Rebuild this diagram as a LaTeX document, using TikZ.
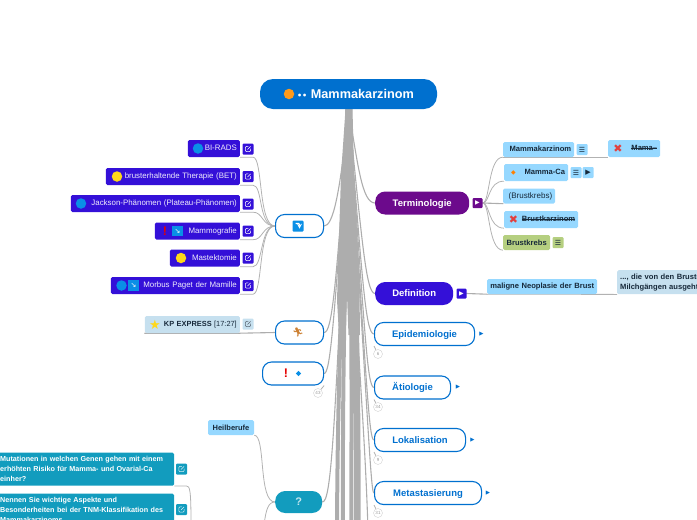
\documentclass[tikz,border=0pt]{standalone}
\usepackage{fontspec}
\setmainfont{Liberation Sans}
\newfontfamily\symfont{DejaVu Sans}
\newfontfamily\emojifont{Noto Emoji}
\usetikzlibrary{backgrounds,shapes.geometric}
\newcommand{\strikeword}[1]{\setbox0=\hbox{#1}\rlap{\rule[2.2pt]{\wd0}{.5pt}}\box0}

\definecolor{rootblue}{HTML}{0070CF}
\definecolor{indigo}{HTML}{3410D8}
\definecolor{plum}{HTML}{6C0A8C}
\definecolor{teal}{HTML}{129CBE}
\definecolor{sky}{HTML}{96D8FF}
\definecolor{pale}{HTML}{C6E0EF}
\definecolor{olive}{HTML}{B5CF80}
\definecolor{trunk}{HTML}{ADADAD}
\definecolor{inkdark}{HTML}{17293A}
\definecolor{ballblue}{HTML}{0A8FE6}
\definecolor{ballyellow}{HTML}{FFD81A}
\definecolor{ballorange}{HTML}{FF9A1A}
\definecolor{crossred}{HTML}{E2403F}

\tikzset{
  item/.style={fill=#1,rounded corners=1.5pt,inner xsep=3pt,inner ysep=0pt,minimum height=17pt,font=\fontsize{7.9}{9}\selectfont},
  lefttopic/.style={item=indigo,text=white!92!indigo,text width=#1,text height=6pt,text depth=1.2pt,align=right,anchor=east},
  leaf/.style={item=sky,text=inkdark,text width=#1,text height=6pt,text depth=1.2pt,align=right,anchor=west,font=\fontsize{7.6}{9}\selectfont\bfseries},
  bluetopic/.style={draw=rootblue,line width=1.1pt,fill=white,rounded corners=9pt,minimum height=23pt,text=rootblue,text height=7pt,text depth=1pt,font=\fontsize{9.5}{11}\selectfont\bfseries,anchor=west},
  filledtopic/.style={fill=#1,rounded corners=10pt,minimum height=23pt,text=white,text height=7pt,text depth=1pt,font=\fontsize{9.5}{11}\selectfont\bfseries,anchor=west},
  linkbtn/.style 2 args={fill=#1,rounded corners=1pt,minimum size=11pt,inner sep=0pt,path picture={
    \draw[#2,line width=.55pt] (path picture bounding box.center) ++(0.3,-2.6) -- ++(-2.9,0) -- ++(0,5.2) -- ++(5.2,0) -- ++(0,-2.9);
    \draw[#2,line width=.55pt] (path picture bounding box.center) ++(-0.5,0.5) -- ++(3.1,-3.1);}},
  symbtn/.style={fill=#1,rounded corners=1pt,minimum size=11pt,inner sep=0pt,text=inkdark,font=\symfont\fontsize{7}{7}\selectfont},
  ball/.style={circle,fill=#1,minimum size=10.5pt,inner sep=0pt},
  arrowbox/.style={fill=#1,rounded corners=1pt,minimum size=10pt,inner sep=0pt,text=white,font=\symfont\fontsize{6}{6}\selectfont},
  badge/.style={circle,draw=black!18,fill=white,minimum size=9pt,inner sep=0pt,text=black!40,font=\fontsize{4.5}{5}\selectfont},
  branch/.style={draw=trunk,line width=1.1pt,line cap=round},
  twig/.style={draw=black!30,line width=.8pt},
  redmark/.style={text=red!90!black,font=\fontsize{12.5}{12.5}\selectfont\bfseries,inner sep=0pt},
  cross/.style={text=crossred,inner sep=0pt,font=\symfont\fontsize{11}{11}\selectfont\bfseries},
  tri/.style={text=rootblue,font=\symfont\fontsize{5.5}{6}\selectfont,inner sep=0pt}
}

\begin{document}
\begin{tikzpicture}[x=1pt,y=-1pt]
\useasboundingbox (0,0) rectangle (697,520);

% root
\node[fill=rootblue,rounded corners=13pt,minimum width=177pt,minimum height=30pt,text=white,font=\fontsize{12.7}{14}\selectfont\bfseries,inner sep=0pt] (root) at (348.5,94) {\hspace*{14pt}{\fontsize{8}{8}\selectfont\symfont ••} Mammakarzinom};
\node[ball=ballorange] (rootdot) at (289,94) {};

% left topic with the grey links
\node[bluetopic,minimum width=48pt] (arrowtopic) at (275,226) {};
\node[fill=ballblue,rounded corners=1pt,minimum size=11pt,inner sep=0pt,path picture={
  \draw[white,line width=1.1pt,-stealth] (path picture bounding box.center) ++(-2.5,-2.5) -- ++(4,0) -- ++(0,5);}] (arrowicon) at (298,226) {};

\node[lefttopic=46pt] (birads) at (240,148.5) {BI-RADS};
\node[lefttopic=128pt] (bet) at (240,176.5) {brusterhaltende Therapie (BET)};
\node[lefttopic=163pt] (jackson) at (240,203.5) {Jackson-Phänomen (Plateau-Phänomen)};
\node[lefttopic=79pt] (mammo) at (240,231) {Mammografie};
\node[lefttopic=64pt] (mastek) at (240,258) {Mastektomie};
\node[lefttopic=123pt] (paget) at (240,285.5) {Morbus Paget der Mamille};
\node[linkbtn={indigo}{white}] (biradsbtn) at (248,149) {};
\node[linkbtn={indigo}{white}] (betbtn) at (248,176.5) {};
\node[linkbtn={indigo}{white}] (jacksonbtn) at (248,204) {};
\node[linkbtn={indigo}{white}] (mammobtn) at (248,231) {};
\node[linkbtn={indigo}{white}] (mastekbtn) at (248,258) {};
\node[linkbtn={indigo}{white}] (pagetbtn) at (248,285.5) {};
\node[ball=ballblue] (biradsdot) at (198,148.5) {};
\node[ball=ballyellow] (betdot) at (117,176.5) {};
\node[ball=ballblue] (jacksondot) at (81,203.5) {};
\node[redmark] (mammomark) at (165,231) {!};
\node[fill=ballblue,minimum size=10.5pt,inner sep=0pt,text=white,font=\symfont\fontsize{7}{7}\selectfont] (mammoicon) at (177.5,231) {↘};
\node[ball=ballyellow] (mastekdot) at (181,258) {};
\node[ball=ballblue] (pagetdot) at (121.5,285.5) {};
\node[fill=ballblue,minimum size=10.5pt,inner sep=0pt,text=white,font=\symfont\fontsize{7}{7}\selectfont] (pageticon) at (133.5,285.5) {↘};

% runner and exclamation topics
\node[bluetopic,minimum width=48pt] (runner) at (275,332.5) {};
\node[text=orange!75!black!80,inner sep=0pt,font=\emojifont\fontsize{9}{9}\selectfont] (runnericon) at (298,332.5) {🏃};
\node[item=pale,text=inkdark,text width=89pt,text height=6pt,text depth=1.2pt,align=right,anchor=east,font=\fontsize{7.4}{9}\selectfont] (kp) at (240,324.5) {\textbf{KP EXPRESS} [17:27]};
\node[linkbtn={pale}{inkdark!70}] (kpbtn) at (248,324) {};
\node[text=ballyellow,inner sep=0pt,font=\symfont\fontsize{13}{13}\selectfont] (kpstar) at (155,324.5) {★};

\node[bluetopic,minimum width=61pt] (warn) at (262,373.5) {};
\node[redmark] (warnmark) at (286,373.5) {!};
\node[diamond,fill=ballblue,minimum size=5.5pt,inner sep=0pt] (warndot) at (298.5,373.5) {};
\node[badge] (warnbadge) at (318,393) {43};

% question topic
\node[filledtopic=teal,minimum width=47pt,minimum height=22pt,text=white!75!teal,font=\fontsize{11}{12}\selectfont\bfseries] (quest) at (275,502) {?};
\node[item=sky,text=inkdark,minimum width=46pt,minimum height=15pt,inner xsep=0pt,font=\fontsize{7.5}{9}\selectfont\bfseries] (heil) at (231,427.5) {Heilberufe};
\node[item=teal,text=white,text width=171pt,align=left,anchor=north west,minimum height=33pt,font=\fontsize{7.2}{10}\selectfont\bfseries] (genes) at (-3,452.5) {Mutationen in welchen Genen gehen mit einem\\erhöhten Risiko für Mamma- und Ovarial-Ca\\einher?};
\node[item=teal,text=white,text width=171pt,align=left,anchor=north west,minimum height=33pt,font=\fontsize{7.2}{10}\selectfont\bfseries] (tnm) at (-3,493.5) {Nennen Sie wichtige Aspekte und\\Besonderheiten bei der TNM-Klassifikation des\\Mammakarzinoms};
\node[linkbtn={teal}{white!85!teal}] (genesbtn) at (181.5,469) {};
\node[linkbtn={teal}{white!85!teal}] (tnmbtn) at (181.5,509.5) {};

% right topics
\node[filledtopic=plum,minimum width=94pt] (termin) at (375,203) {Terminologie};
\node[arrowbox=plum] (terminbtn) at (477.5,203) {▶};
\node[filledtopic=indigo,minimum width=78pt] (defin) at (375,293.5) {Definition};
\node[arrowbox=indigo] (definbtn) at (461.5,293.5) {▶};
\node[bluetopic,minimum width=100pt] (epi) at (374,334) {Epidemiologie};
\node[tri] (epitri) at (481.5,334) {▶};
\node[badge] (epibadge) at (378,354) {6};
\node[bluetopic,minimum width=76pt] (aet) at (374,387.5) {Ätiologie};
\node[tri] (aettri) at (458,387.5) {▶};
\node[badge] (aetbadge) at (378,407) {34};
\node[bluetopic,minimum width=91pt] (lok) at (374,440) {Lokalisation};
\node[tri] (loktri) at (472.5,440) {▶};
\node[badge] (lokbadge) at (378,460) {9};
\node[bluetopic,minimum width=107pt] (meta) at (374,493) {Metastasierung};
\node[tri] (metatri) at (488,493) {▶};
\node[badge] (metabadge) at (378,513) {31};

% children of the terminology topic
\node[leaf=65pt,minimum height=15pt] (mk) at (503,149.5) {Mammakarzinom};
\node[symbtn=sky] (mkbtn) at (582,149.5) {☰};
\node[leaf=46pt] (mama) at (608,148.5) {\strikeword{Mama--}};
\node[cross] (mamax) at (618,148.5) {✖};
\node[leaf=58pt] (mca) at (504,172.5) {Mamma-Ca};
\node[text=orange,inner sep=0pt,font=\symfont\fontsize{6}{6}\selectfont] (mcadot) at (513.5,172.5) {◆};
\node[symbtn=sky] (mcabtn) at (576,172.5) {☰};
\node[symbtn=sky] (mcatri) at (588,172.5) {▶};
\node[leaf=46pt,minimum height=15pt,font=\fontsize{8}{9}\selectfont] (bk) at (503,196) {(Brustkrebs)};
\node[leaf=68pt] (bz) at (504,219.5) {\strikeword{Brustkarzinom}};
\node[cross] (bzx) at (513.5,219.5) {✖};
\node[item=olive,text=inkdark,anchor=west,minimum height=15pt,minimum width=47pt,inner xsep=0pt,font=\fontsize{7.6}{9}\selectfont\bfseries] (bg) at (503,242.5) {Brustkrebs};
\node[symbtn=olive] (bgbtn) at (558,242.5) {☰};

% children of the definition topic
\node[leaf=104pt,minimum height=15pt] (neo) at (487,286.5) {maligne Neoplasie der Brust};
\node[item=pale,text=inkdark,anchor=north west,text width=110pt,align=left,minimum height=24pt,font=\fontsize{7.6}{10}\selectfont\bfseries] (drues) at (617,270) {..., die von den Brustdrüsen\\Milchgängen ausgeht};

\begin{scope}[on background layer]
% the solid wedge under the root
\fill[trunk] (345.5,109) -- (341,175) -- (337,300) -- (339,335) -- (345.5,335) -- (347,295) -- (348.5,335) -- (360,335) -- (359.5,290) -- (354,170) -- (352.5,109) -- cycle;

% strands of the trunk leaving the page at the bottom
\coordinate (S2) at (337,530);
\coordinate (S3) at (343,530);
\coordinate (S4) at (351,530);
\coordinate (S5) at (357,530);
\coordinate (S6) at (368,530);
\draw[trunk,line width=4pt] (root.south) .. controls (349,200) and (338,290) .. (S2);
\draw[trunk,line width=4pt] (root.south) .. controls (349,200) and (342,290) .. (S3);
\draw[trunk,line width=3.5pt] (root.south) .. controls (350,200) and (352,290) .. (S4);
\draw[trunk,line width=7pt] (root.south) .. controls (350,200) and (358,290) .. (S5);
\draw[trunk,line width=1.1pt] (root.south) .. controls (352,300) and (364,400) .. (S6);

% branches from the root
\draw[branch] (root.south) .. controls (358,165) and (362,203) .. (termin.west);
\draw[branch] (root.south) .. controls (362,240) and (366,293.5) .. (defin.west);
\draw[branch] (root.south) .. controls (362,270) and (365,334) .. (epi.west);
\draw[branch] (root.south) .. controls (365,330) and (367,387.5) .. (aet.west);
\draw[branch] (root.south) .. controls (367,390) and (369,440) .. (lok.west);
\draw[branch] (root.south) .. controls (369,440) and (371,493) .. (meta.west);
\draw[branch] (root.south) .. controls (340,195) and (333,226) .. (arrowtopic.east);
\draw[branch] (root.south) .. controls (336,290) and (332,332.5) .. (runner.east);
\draw[branch] (root.south) .. controls (334,330) and (330,373.5) .. (warn.east);
\draw[branch] (root.south) .. controls (335,440) and (331,502) .. (quest.east);

% grey links of the left topics
\draw[twig] (birads.south east) -- ++(13,0) .. controls (263,157) and (258,226) .. (arrowtopic.west);
\draw[twig] (bet.south east) -- ++(13,0) .. controls (263,185) and (258,226) .. (arrowtopic.west);
\draw[twig] (jackson.south east) -- ++(13,0) .. controls (263,212) and (262,226) .. (arrowtopic.west);
\draw[twig] (mammo.south east) -- ++(13,0) .. controls (263,240) and (262,226) .. (arrowtopic.west);
\draw[twig] (mastek.south east) -- ++(13,0) .. controls (263,267) and (260,226) .. (arrowtopic.west);
\draw[twig] (paget.south east) -- ++(13,0) .. controls (263,294) and (258,226) .. (arrowtopic.west);
\draw[branch] (kp.south west) -- (kp.south east) -- (runner.west);
\draw[twig] (heil.south east) .. controls (266,435) and (258,502) .. (quest.west);
\coordinate (Q1) at (264,525);
\draw[twig] (quest.west) .. controls (268,502) and (266,510) .. (Q1);
\coordinate (T1) at (191,525);
\draw[twig] (genes.south east) -- ++(12,0) .. controls (190,486) and (191,490) .. (T1);

% links of the right side
\draw[twig] (terminbtn.east) .. controls (490,203) and (488,157) .. (mk.south west);
\draw[twig] (mk.south west) -- (mama.south west);
\draw[twig] (terminbtn.east) .. controls (490,203) and (488,181) .. (mca.south west);
\draw[branch] (terminbtn.east) -- (bk.south west);
\draw[twig] (terminbtn.east) .. controls (490,203) and (488,228) .. (bz.south west);
\draw[twig] (terminbtn.east) .. controls (490,203) and (488,250) .. (bg.south west);
\draw[branch] (definbtn.east) -- (neo.south west);
\draw[twig] (neo.south west) -- (drues.south west);

% stems of the badges
\draw[twig] (epi.south west) -- (epibadge);
\draw[twig] (aet.south west) -- (aetbadge);
\draw[twig] (lok.south west) -- (lokbadge);
\draw[twig] (meta.south west) -- (metabadge);
\draw[twig] (warn.south east) -- (warnbadge);
\end{scope}
\end{tikzpicture}
\end{document}
